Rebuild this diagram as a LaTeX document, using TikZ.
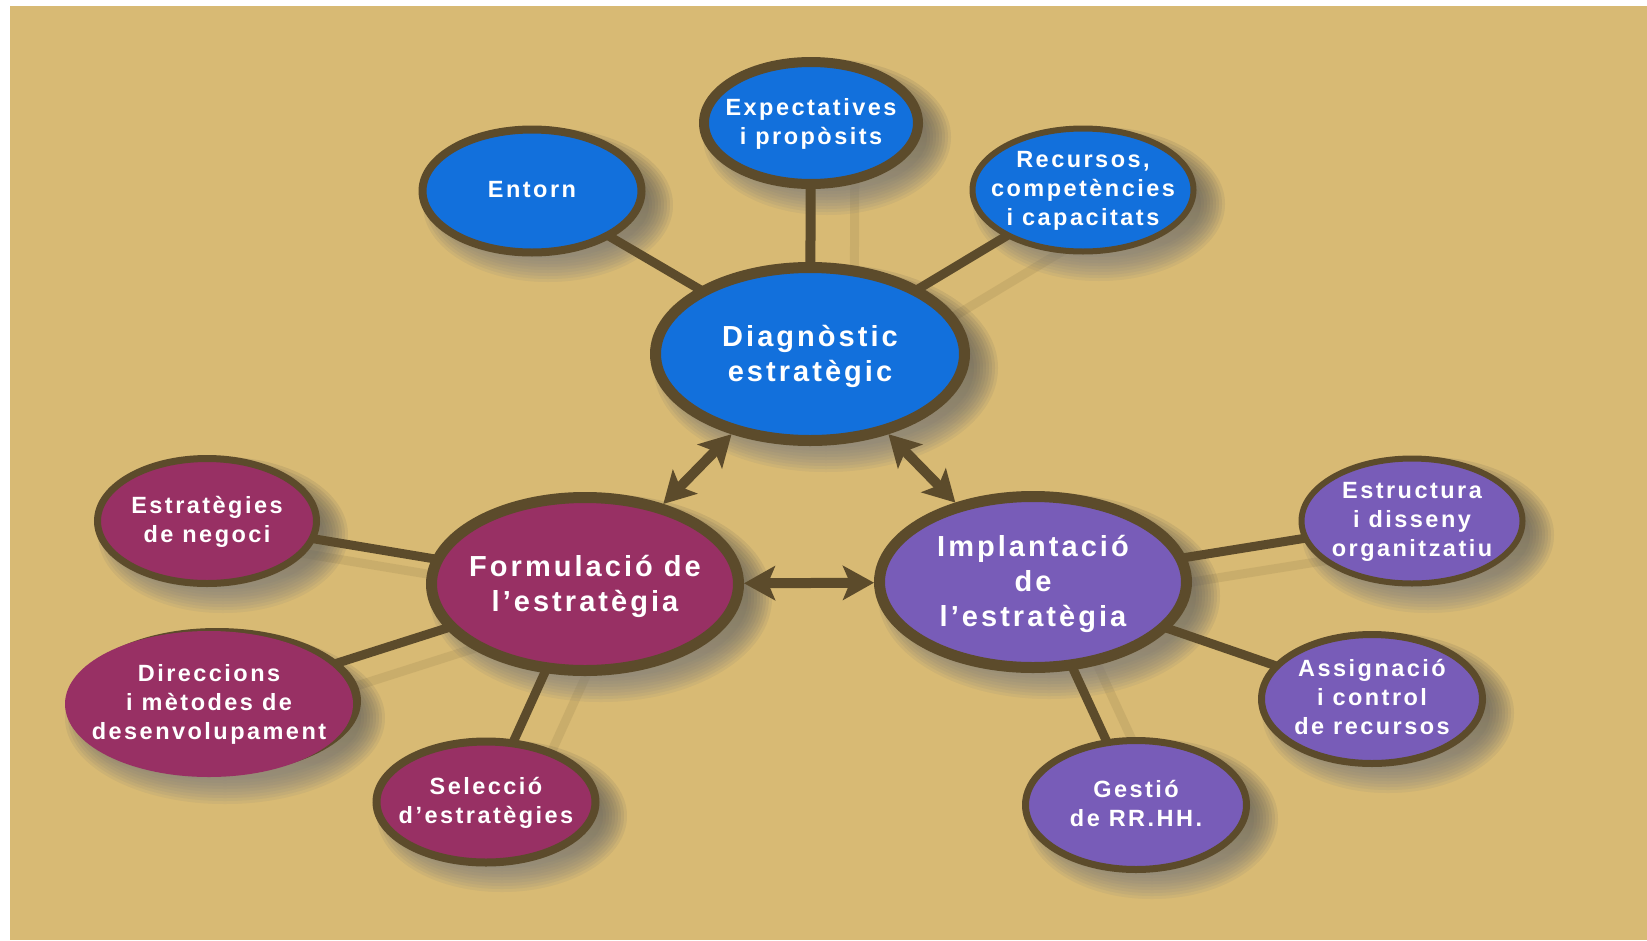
\documentclass[tikz,border=0pt]{standalone}
\usepackage{fontspec}
\usetikzlibrary{shapes.geometric,arrows.meta}
\setmainfont{Liberation Sans}
% tracked bold sans for every label
\newfontfamily\labfont{Liberation Sans}[LetterSpace=10.5]

\definecolor{sand}{HTML}{D8BA74}
\definecolor{ringc}{HTML}{5C4B2B}
\definecolor{bluen}{HTML}{1270DC}
\definecolor{maroon}{HTML}{983064}
\definecolor{violet}{HTML}{785CB8}
\definecolor{shade}{HTML}{6B5A30}

\pgfdeclarelayer{bg}
\pgfdeclarelayer{links}
\pgfsetlayers{bg,links,main}

% centred multi-line label that takes no room, so the ellipse keeps its set size
\newcommand\lbl[1]{\raisebox{-0.31em}[0pt][0pt]{\makebox[0pt]{%
  \begin{tabular}{@{}c@{}}#1\end{tabular}}}}

% soft drop shadow under an ellipse node: node name, outer semi-axes
\newcommand\dropshade[3]{%
  \foreach \s in {0,...,8}{%
    \fill[shade, opacity=0.06] ([shift={(16,14)}]#1.center)
      ellipse ({#2+12-3*\s} and {#3+12-3*\s});
  }}

\begin{document}
\begin{tikzpicture}[x=1pt,y=-1pt,
  bubble/.style={ellipse, draw=ringc, line width=7pt, inner sep=0pt,
    text=white,
    font=\labfont\bfseries\fontsize{23.5}{29}\selectfont},
  hub/.style={bubble, line width=11pt,
    font=\labfont\bfseries\fontsize{29}{35}\selectfont},
  blueb/.style={fill=bluen},
  maroonb/.style={fill=maroon},
  violetb/.style={fill=violet},
  sz/.style 2 args={minimum width=#1, minimum height=#2},
  link/.style={draw=ringc, line width=9pt},
  linkshade/.style={draw=shade, line width=9pt, opacity=0.13},
  twoway/.style={draw=ringc, line width=10pt,
    {Stealth[length=31pt,width=34pt,inset=7pt]}-{Stealth[length=31pt,width=34pt,inset=7pt]}}
]
\useasboundingbox (0,0) rectangle (1647,940);

% nodes
\node[hub, blueb, sz={309}{173}] (diag) at (810,354) {\lbl{Diagnòstic\\estratègic}};
\node[hub, maroonb, sz={307}{173}] (form) at (585,584) {\lbl{Formulació de\\l’estratègia}};
\node[hub, violetb, sz={307}{171}] (impl) at (1033,582) {\lbl{Implantació\\de\\l’estratègia}};

\node[bubble, blueb, sz={219}{123}, line width=8pt] (ent) at (532,191) {\lbl{Entorn}};
\node[bubble, blueb, sz={214}{122}, line width=10pt] (exp) at (811,123) {\lbl{Expectatives\\i propòsits}};
\node[bubble, blueb, sz={221}{123}, line width=6pt] (rec) at (1083,190) {\lbl{Recursos,\\competències\\i capacitats}};

\node[bubble, maroonb, sz={219}{125}] (estr) at (207,521) {\lbl{Estratègies\\de negoci}};
\node[bubble, maroonb, draw=none, sz={288}{146},
  preaction={fill=ringc, transform canvas={xshift=8pt, yshift=3pt}}] (dir) at (209,704)
  {\lbl{Direccions\\i mètodes de\\desenvolupament}};
\node[bubble, maroonb, sz={219}{121}, line width=8pt] (sel) at (486,802) {\lbl{Selecció\\d’estratègies}};

\node[bubble, violetb, sz={221}{125}, line width=6pt] (estc) at (1412,521) {\lbl{Estructura\\i disseny\\organitzatiu}};
\node[bubble, violetb, sz={221}{129}] (assig) at (1372,699) {\lbl{Assignació\\i control\\de recursos}};
\node[bubble, violetb, sz={221}{129}] (gest) at (1136,805) {\lbl{Gestió\\de RR.HH.}};

% two-way arrows between the three main stages
\draw[twoway] (diag) -- (form);
\draw[twoway] (diag) -- (impl);
\draw[twoway] (form) -- (impl);

% spokes from each stage to its components
\begin{pgfonlayer}{links}
  \draw[link] (ent.center) -- (diag.center);
  \draw[link, line width=10pt] (exp.center) -- (diag.center);
  \draw[link] (rec.center) -- (diag.center);
  \draw[link] (estr.center) -- (form.center);
  \draw[link] (dir.center) -- (form.center);
  \draw[link] (sel.center) -- (form.center);
  \draw[link] (estc.center) -- (impl.center);
  \draw[link] (assig.center) -- (impl.center);
  \draw[link] (gest.center) -- (impl.center);
\end{pgfonlayer}

% backdrop, cast shadows of the spokes and the bubbles
\begin{pgfonlayer}{bg}
  \fill[white] (0,0) rectangle (1647,940);
  \fill[sand] (10,6) rectangle (1647,940);
  \draw[linkshade] ([shift={(44,6)}]exp.center) -- ([shift={(44,6)}]diag.center);
  \draw[linkshade] ([shift={(38,26)}]rec.center) -- ([shift={(38,26)}]diag.center);
  \draw[linkshade] ([shift={(10,18)}]estr.center) -- ([shift={(10,18)}]form.center);
  \draw[linkshade] ([shift={(22,22)}]dir.center) -- ([shift={(22,22)}]form.center);
  \draw[linkshade] ([shift={(40,6)}]sel.center) -- ([shift={(40,6)}]form.center);
  \draw[linkshade] ([shift={(10,24)}]estc.center) -- ([shift={(10,24)}]impl.center);
  \draw[linkshade] ([shift={(28,4)}]gest.center) -- ([shift={(28,4)}]impl.center);
  \dropshade{diag}{160}{92}
  \dropshade{form}{159}{92}
  \dropshade{impl}{159}{91}
  \dropshade{ent}{113}{65}
  \dropshade{exp}{112}{66}
  \dropshade{rec}{114}{65}
  \dropshade{estr}{113}{66}
  \dropshade{dir}{148}{74}
  \dropshade{sel}{113}{64}
  \dropshade{estc}{114}{66}
  \dropshade{assig}{114}{68}
  \dropshade{gest}{114}{68}
\end{pgfonlayer}
\end{tikzpicture}
\end{document}
